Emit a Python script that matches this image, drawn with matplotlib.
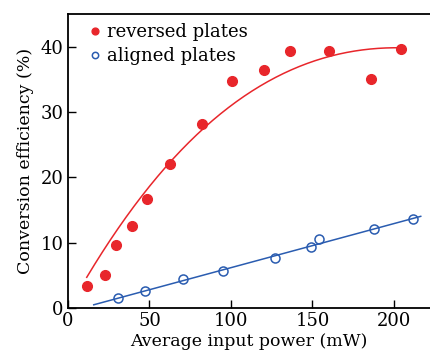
import numpy as np
import matplotlib
matplotlib.use("Agg")
import matplotlib.pyplot as plt

# reversed plates (filled red)
rev_power = [11.7, 22.7, 29.6, 39.5, 48.5, 62.4, 82.4, 100.4, 120.2, 136.2, 160.1, 185.9, 204.1]
rev_eff = [3.3, 5.1, 9.7, 12.5, 16.7, 22.0, 28.2, 34.7, 36.4, 39.4, 39.3, 35.1, 39.6]

# aligned plates (open blue)
ali_power = [30.5, 47.4, 70.4, 95.3, 127.2, 149.3, 154.2, 187.7, 211.8]
ali_eff = [1.5, 2.6, 4.4, 5.6, 7.7, 9.3, 10.5, 12.1, 13.6]

# red guide curve
curve_power = [11.5, 48.3, 62.2, 82.4, 100.0, 117.8, 136.0, 159.9, 203.7]
curve_eff = [4.9, 17.5, 22.0, 28.0, 31.3, 33.8, 36.1, 38.4, 39.9]

red = "#e8262b"
blue = "#2a5cb0"

plt.rcParams['font.family'] = ['DejaVu Serif']
plt.rcParams['font.size'] = 12

fig = plt.figure(figsize=(4.31, 3.56), dpi=100)
ax = fig.add_axes([68 / 431, 48 / 356, (430 - 68) / 431, (308 - 14) / 356])

cr = np.polyfit(curve_power, curve_eff, 3)
xr = np.linspace(curve_power[0], curve_power[-1], 200)
ax.plot(xr, np.polyval(cr, xr), color=red, lw=1.1)
cb = np.polyfit(ali_power, ali_eff, 1)
xb = np.linspace(15.8, 216.4, 50)
ax.plot(xb, np.polyval(cb, xb), color=blue, lw=1.1)

ax.plot(rev_power, rev_eff, 'o', color=red, ms=7, label="reversed plates")
ax.plot(ali_power, ali_eff, 'o', mfc='none', mec=blue, mew=1.1, ms=6.5, label="aligned plates")

ax.set_xlim(0, (430 - 68) / 1.63)
ax.set_ylim(0, 45)
ax.set_xticks([0, 50, 100, 150, 200])
ax.set_yticks([0, 10, 20, 30, 40])
ax.tick_params(direction='in', length=6, width=1, labelsize=13, pad=3)
ax.spines['right'].set_visible(False)
for s in ['left', 'bottom', 'top']:
    ax.spines[s].set_linewidth(1.3)
ax.set_xlabel("Average input power (mW)", fontsize=12.5, labelpad=2)
ax.set_ylabel("Conversion efficiency (%)", fontsize=12.5, labelpad=5)

ax.legend(loc='upper left', bbox_to_anchor=(0.02, 1.0), frameon=False,
          handletextpad=0.05, handlelength=1.2, borderaxespad=0.1,
          labelspacing=0.35, fontsize=13, markerscale=0.7)

fig.savefig("out.png", dpi=100)
